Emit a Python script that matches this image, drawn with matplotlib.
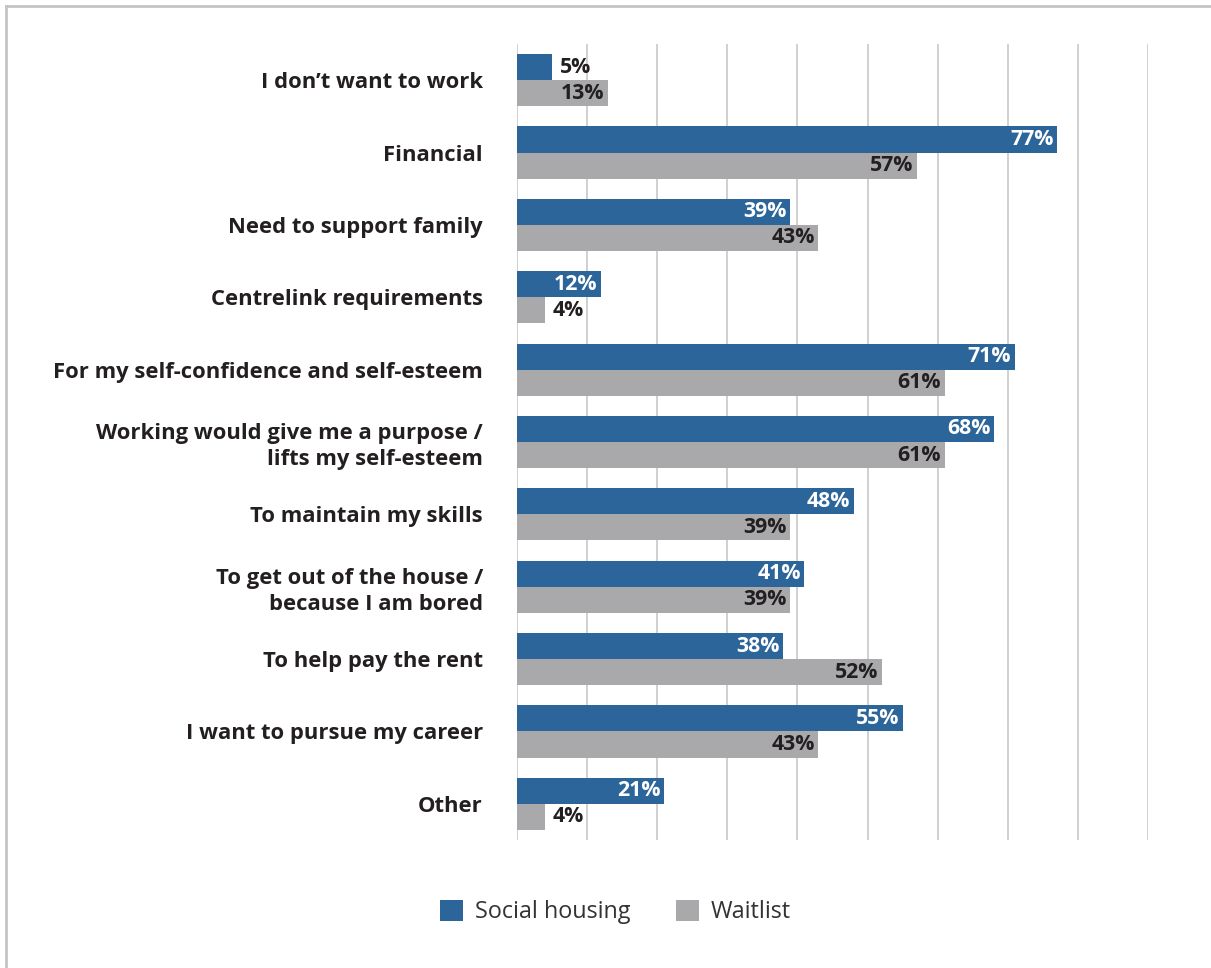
import matplotlib
matplotlib.use("Agg")
import matplotlib.pyplot as plt
import numpy as np
from matplotlib.patches import Patch
from matplotlib.lines import Line2D

# reasons for wanting to work, top to bottom
reasons = [
    "I don\u2019t want to work",
    "Financial",
    "Need to support family",
    "Centrelink requirements",
    "For my self-confidence and self-esteem",
    "Working would give me a purpose /\nlifts my self-esteem",
    "To maintain my skills",
    "To get out of the house /\nbecause I am bored",
    "To help pay the rent",
    "I want to pursue my career",
    "Other",
]
social_housing = [5, 77, 39, 12, 71, 68, 48, 41, 38, 55, 21]
waitlist = [13, 57, 43, 4, 61, 61, 39, 39, 52, 43, 4]
series_names = ["Social housing", "Waitlist"]

BLUE = "#2B6599"
GREY = "#A9A9AB"
TEXT = "#231F20"
GRID = "#C8C8C8"

plt.rcParams["font.family"] = ["Open Sans", "DejaVu Sans"]

fig = plt.figure(figsize=(12.11, 9.68), dpi=100)
ax = fig.add_axes([517 / 1211, 1 - 840 / 968, (1148 - 517) / 1211, (840 - 44) / 968])

y = np.arange(len(reasons))
h = 0.36
ax.barh(y - h / 2, social_housing, height=h, color=BLUE)
ax.barh(y + h / 2, waitlist, height=h, color=GREY)

ax.set_xlim(0, 90)
ax.set_ylim(len(reasons) - 0.5, -0.5)
ax.set_xticks(np.arange(0, 91, 10))
ax.grid(axis="x", color=GRID, linewidth=1.2)
ax.set_axisbelow(True)
for s in ax.spines.values():
    s.set_visible(False)
ax.tick_params(axis="x", length=0, labelbottom=False)
ax.tick_params(axis="y", length=0, pad=24.5)
ax.set_yticks(y)
ax.set_yticklabels(reasons, fontsize=15.8, fontweight="bold", color=TEXT,
                   linespacing=1.3)

# value labels: inside the bar end, outside when the bar is too short
def label_bars(vals, offset, inside_color):
    for i, v in enumerate(vals):
        if v < 10:
            ax.text(v + 1.1, i + offset, f"{v}%", ha="left", va="center",
                    fontsize=15.3, fontweight="bold", color=TEXT)
        else:
            ax.text(v - 0.5, i + offset, f"{v}%", ha="right", va="center",
                    fontsize=15.3, fontweight="bold", color=inside_color)

label_bars(social_housing, -h / 2, "white")
label_bars(waitlist, h / 2, TEXT)

handles = [Patch(facecolor=BLUE), Patch(facecolor=GREY)]
fig.legend(handles, series_names, loc="center", bbox_to_anchor=(0.508, 1 - 912 / 968),
           ncol=2, frameon=False, fontsize=16.8, handlelength=1.0, handleheight=1.0,
           columnspacing=1.95, handletextpad=0.5, labelcolor="#333333")

# thin frame on the top and left edges
fig.add_artist(Line2D([6 / 1211, 1], [1 - 6 / 968] * 2, color="#C4C4C4", linewidth=2,
                      transform=fig.transFigure))
fig.add_artist(Line2D([6 / 1211] * 2, [0, 1 - 6 / 968], color="#C4C4C4", linewidth=2,
                      transform=fig.transFigure))

fig.savefig("out.png", dpi=100)
